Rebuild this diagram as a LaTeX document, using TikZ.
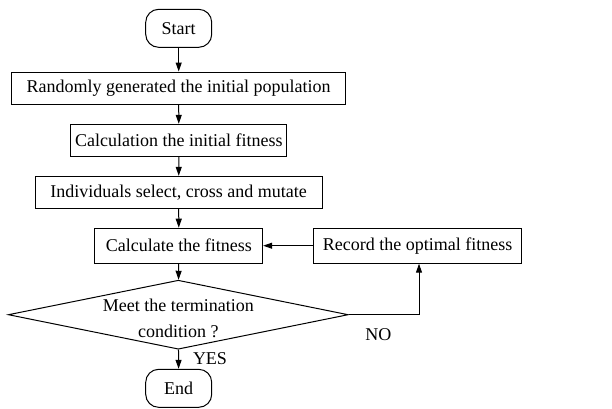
\documentclass[tikz,border=0pt]{standalone}
\usepackage{fontspec}
\setmainfont{Liberation Serif}
\usetikzlibrary{shapes.geometric,arrows.meta}
\begin{document}
\begin{tikzpicture}[x=1pt,y=-1pt,
  every node/.style={font=\fontsize{18}{26}\selectfont},
  proc/.style={draw, line width=1pt, minimum height=32pt, inner sep=0pt},
  term/.style={draw, line width=1pt, rounded corners=13pt, minimum width=66pt, minimum height=38pt, inner sep=0pt},
  dec/.style={draw, line width=1pt, diamond, aspect=4.9, minimum width=340pt, minimum height=69pt, inner sep=0pt},
  flow/.style={line width=1pt, -{Triangle[length=9pt,width=6pt]}},
  lbl/.style={inner sep=0pt, align=center}]
\useasboundingbox (0,0) rectangle (612,408);
\node[term] (start) at (178.7,28.3) {Start};
\node[proc, minimum width=334pt] (init) at (178.7,88) {Randomly generated the initial population};
\node[proc, minimum width=215.7pt] (calc0) at (178.8,140.3) {Calculation the initial fitness};
\node[proc, minimum width=287pt] (ops) at (178.7,192.3) {Individuals select, cross and mutate};
\node[proc, minimum width=167.7pt, minimum height=35pt] (calc) at (178.8,245.7) {Calculate the fitness};
\node[proc, minimum width=208.4pt, minimum height=35pt] (rec) at (417.5,245.7) {Record the optimal fitness};
\node[dec] (cond) at (178.3,314.7) {};
\node[lbl] (condtext) at (178.3,318) {Meet the termination\\condition ?};
\node[term] (end) at (178.7,388.3) {End};
\coordinate (corner) at (419,314.7);
\draw[flow] (start) -- (init);
\draw[flow] (init) -- (calc0);
\draw[flow] (calc0) -- (ops);
\draw[flow] (ops) -- (calc);
\draw[flow] (calc) -- (cond);
\draw[flow] (cond) -- (end);
\draw[flow] (cond.east) -- (corner) -- (corner |- rec.south);
\draw[flow] (rec) -- (calc);
\node[lbl] (yes) at (210,359) {YES};
\node[lbl] (no) at (378.3,335) {NO};
\end{tikzpicture}
\end{document}
